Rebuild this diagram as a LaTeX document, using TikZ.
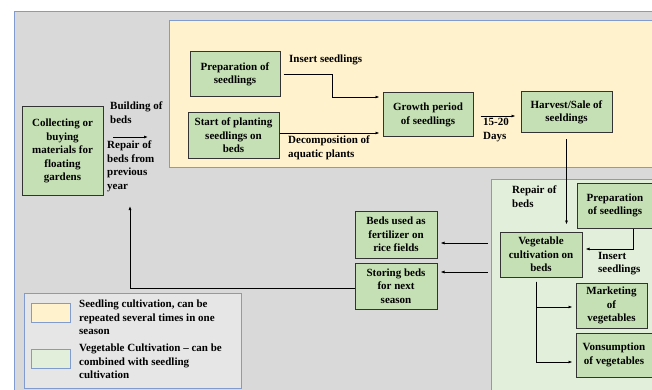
\documentclass[tikz,border=0pt]{standalone}
\usepackage{fontspec}
\setmainfont{Liberation Serif}
\usetikzlibrary{arrows.meta}
\definecolor{bggray}{HTML}{D9D9D9}
\definecolor{seedyel}{HTML}{FFF2CC}
\definecolor{vegpale}{HTML}{E2EFDA}
\definecolor{boxgreen}{HTML}{C5E0B4}
\definecolor{edgeblue}{HTML}{7F9BCF}
\definecolor{legbg}{HTML}{E6E6E6}
\begin{document}
\begin{tikzpicture}[x=1pt,y=-1pt,font=\fontsize{11}{13.5}\selectfont\bfseries,
  box/.style={draw=black!80,line width=1pt,fill=boxgreen,align=center,inner sep=1pt},
  lbl/.style={anchor=north west,align=left,inner sep=0pt},
  flow/.style={line width=0.8pt,-{Latex[length=4pt,width=3pt]}},
  region/.style={draw=edgeblue,line width=1pt}]
\useasboundingbox (0,0) rectangle (652,390);

% areas
\fill[white] (0,0) rectangle (652,390);
\draw[region,fill=bggray] (14,12) rectangle (670,400);
\draw[region,fill=seedyel] (169,21) rectangle (670,167);
\draw[region,fill=vegpale] (491,179) rectangle (670,400);

% boxes
\node[box,minimum width=81pt,minimum height=88pt] (coll) at (62.5,151) {Collecting or\\buying\\materials for\\floating\\gardens};
\node[box,minimum width=90pt,minimum height=45pt] (prep) at (235,74.5) {Preparation of\\seedlings};
\node[box,minimum width=91pt,minimum height=45pt] (start) at (233.5,135.5) {Start of planting\\seedlings on\\beds};
\node[box,minimum width=90pt,minimum height=44pt] (growth) at (428,115) {Growth period\\of seedlings};
\node[box,minimum width=91pt,minimum height=41pt] (harvest) at (566.5,112.5) {Harvest/Sale of\\seeldings};
\node[box,minimum width=82pt,minimum height=45pt] (veg) at (541,254.5) {Vegetable\\cultivation on\\beds};
\node[box,minimum width=76pt,minimum height=45pt] (prep2) at (615,205.5) {Preparation\\of seedlings};
\node[box,minimum width=82pt,minimum height=47pt] (fert) at (396,234.5) {Beds used as\\fertilizer on\\rice fields};
\node[box,minimum width=82pt,minimum height=46pt] (store) at (396,286) {Storing beds\\for next\\season};
\node[box,minimum width=71pt,minimum height=45pt] (market) at (611.5,305.5) {Marketing\\of\\vegetables};
\node[box,minimum width=76pt,minimum height=44pt] (vons) at (614,355) {Vonsumption\\of vegetables};

% labels
\node[lbl] (lbuild) at (110,102) {Building of\\beds};
\node[lbl] (lrepair) at (107,141) {Repair of\\beds from\\previous\\year};
\node[lbl] (linsert) at (289,55) {Insert seedlings};
\node[lbl] (ldecomp) at (288,136) {Decomposition of\\aquatic plants};
\node[lbl] (ldays) at (483,118) {15-20\\Days};
\node[lbl] (lrepair2) at (512,186) {Repair of\\beds};
\node[lbl] (linsert2) at (598,252) {Insert\\seedlings};

% connectors
\coordinate (bA) at (113,137);
\coordinate (bB) at (148,137);
\draw[flow] (bA) -- (bB);
\coordinate (g1) at ([yshift=18pt]growth.west);
\coordinate (g2) at ([yshift=-18pt]growth.west);
\draw[flow,shorten <=3pt,shorten >=3pt] (prep.east) -- ++(52,0) |- (g1);
\draw[flow,shorten >=3pt] (start.east |- g2) -- (g2);
\draw[flow,shorten <=7pt,shorten >=5pt] ([yshift=-1pt]growth.east) -- ([yshift=-1pt]harvest.west |- growth.east);
\draw[flow,shorten <=6pt,shorten >=7pt] (harvest.south) -- (harvest.south |- veg.north);
\coordinate (v0) at ([yshift=5.5pt]veg.east);
\draw[flow,shorten >=3pt] ([xshift=18pt]prep2.south) |- (v0);
\coordinate (v1) at ([yshift=11.5pt]veg.west);
\coordinate (v2) at ([yshift=-17.5pt]veg.west);
\draw[flow,shorten <=12pt,shorten >=3pt] (v1) -- (fert.east |- v1);
\draw[flow,shorten <=12pt,shorten >=3pt] (v2) -- (store.east |- v2);
\coordinate (b0) at ([xshift=-5pt,yshift=-4pt]veg.south);
\draw[flow,shorten >=3pt] (b0) |- ([yshift=-1.5pt]market.west);
\draw[flow,shorten >=3pt] (b0) |- ([yshift=-7pt]vons.west);
\coordinate (ret) at (130,206);
\draw[flow] ([yshift=-2pt]store.west) -| (ret);

% legend
\draw[region,fill=legbg] (24,293) rectangle (241,388);
\draw[region,fill=seedyel] (31,303) rectangle (70,322);
\draw[region,fill=vegpale] (31,349) rectangle (70,368);
\node[lbl] (leg1) at (79,300) {Seedling cultivation, can be\\repeated several times in one\\season};
\node[lbl] (leg2) at (79,344) {Vegetable Cultivation -- can be\\combined with seedling\\cultivation};
\end{tikzpicture}
\end{document}
